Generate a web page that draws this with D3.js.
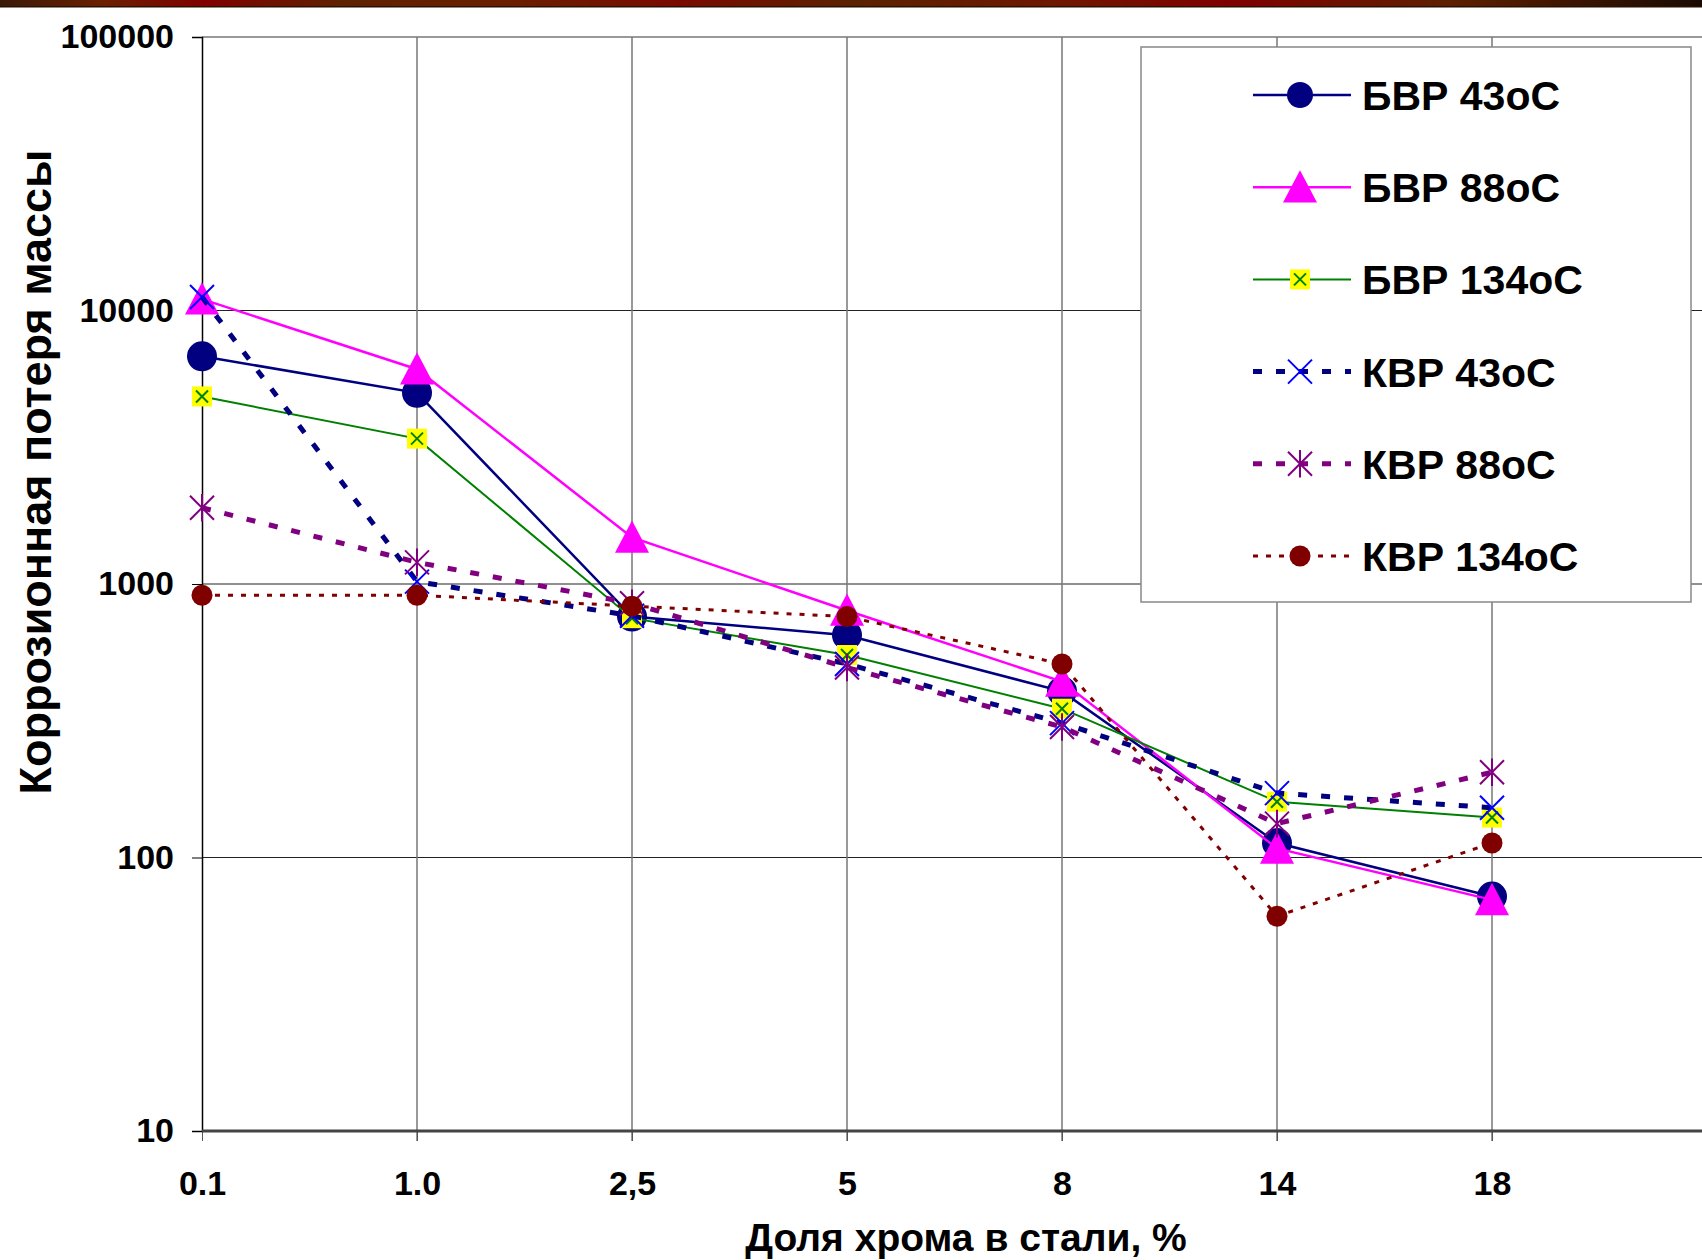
<!DOCTYPE html>
<html>
<head>
<meta charset="utf-8">
<script src="https://cdn.jsdelivr.net/npm/d3@7"></script>
<style>
  body { margin: 0; background: #fff; }
  svg { display: block; }
  text { font-family: "Liberation Sans", Arial, sans-serif; font-weight: bold; fill: #000; }
</style>
</head>
<body>
<script>
// categories on the x axis (share of chromium, %)
const categories = ["0.1", "1.0", "2,5", "5", "8", "14", "18"]
const yTicks = [10, 100, 1000, 10000, 100000]

// series values
const bvr43 = [6800, 5000, 760, 650, 405, 113, 72]
const bvr88 = [11000, 6100, 1480, 800, 440, 108, 70]
const bvr134 = [4850, 3400, 750, 550, 350, 160, 140]
const kvr43 = [11200, 1020, 765, 510, 310, 172, 152]
const kvr88 = [1900, 1200, 850, 495, 300, 133, 205]
const kvr134 = [910, 910, 830, 760, 510, 61, 113]

const seriesNames = ["БВР 43оС", "БВР 88оС", "БВР 134оС", "КВР 43оС", "КВР 88оС", "КВР 134оС"]
const seriesValues = [bvr43, bvr88, bvr134, kvr43, kvr88, kvr134]

// styles per series (line colour, width, dash, marker)
const styles = [
  {line: "#000080", w: 2.5, dash: null, marker: "circle", fill: "#000080", stroke: "none", size: 15},
  {line: "#ff00ff", w: 2.5, dash: null, marker: "triangle", fill: "#ff00ff", stroke: "none", size: 17},
  {line: "#008000", w: 2, dash: null, marker: "boxx", fill: "#ffff00", stroke: "#008000", size: 10},
  {line: "#000080", w: 5, dash: "9,14", marker: "x", fill: "none", stroke: "#0000ff", size: 12},
  {line: "#800080", w: 5, dash: "9,14", marker: "star", fill: "none", stroke: "#800080", size: 12},
  {line: "#800000", w: 3, dash: "5,8", marker: "circle", fill: "#800000", stroke: "none", size: 10.5}
]

var width = 1702, height = 1260
var plot = {left: 202, top: 37, bottom: 1131, step: 215}

var svg = d3.select("body").append("svg")
  .attr("width", width)
  .attr("height", height)

// dark red band at the very top (slide decoration)
var grad = svg.append("defs").append("linearGradient")
  .attr("id", "topband").attr("x1", "0%").attr("x2", "100%")
grad.selectAll("stop")
  .data([["0%", "#3a1a08"], ["6%", "#6a2000"], ["12%", "#800000"], ["20%", "#5e2200"], ["30%", "#6a1f00"], ["40%", "#7a0a00"], ["50%", "#5a2200"], ["62%", "#6e1800"], ["72%", "#800000"], ["85%", "#5e2000"], ["100%", "#1a0a04"]])
  .enter().append("stop")
  .attr("offset", d => d[0]).attr("stop-color", d => d[1])
svg.append("rect").attr("x", 0).attr("y", 0).attr("width", width).attr("height", 6).attr("fill", "url(#topband)")
svg.append("rect").attr("x", 0).attr("y", 6).attr("width", width).attr("height", 1.5).attr("fill", "#2a1000")

var x = d3.scaleLinear().domain([0, 7]).range([plot.left, plot.left + 7 * plot.step])
var y = d3.scaleLog().domain([10, 100000]).range([plot.bottom, plot.top])

// gridlines
svg.append("g").selectAll("line")
  .data(yTicks.slice(1))
  .enter().append("line")
  .attr("x1", plot.left).attr("x2", width)
  .attr("y1", d => y(d)).attr("y2", d => y(d))
  .attr("stroke", d => d == 100000 ? "#999" : "#222")
  .attr("stroke-width", d => d == 100000 ? 2 : 1.2)

svg.append("g").selectAll("line")
  .data(categories.slice(1))
  .enter().append("line")
  .attr("x1", (d, i) => x(i + 1)).attr("x2", (d, i) => x(i + 1))
  .attr("y1", plot.top).attr("y2", plot.bottom + 10)
  .attr("stroke", "#777").attr("stroke-width", 1.5)

// axes through d3
var yAxis = d3.axisLeft(y).tickValues(yTicks).tickSize(10).tickPadding(18).tickFormat(d3.format("d"))
var gy = svg.append("g").attr("transform", "translate(" + plot.left + ",0)").call(yAxis)
gy.select(".domain").attr("stroke", "#000").attr("stroke-width", 1.5)
gy.selectAll("text").style("font-size", "34px")

var xAxis = d3.axisBottom(x).tickValues(d3.range(categories.length)).tickSize(10).tickPadding(30)
  .tickFormat(i => categories[i])
var gx = svg.append("g").attr("transform", "translate(0," + plot.bottom + ")").call(xAxis)
gx.select(".domain").remove()
gx.selectAll("line").attr("stroke", "#555")
gx.selectAll("text").style("font-size", "34px")
svg.append("line")
  .attr("x1", plot.left).attr("x2", width)
  .attr("y1", plot.bottom).attr("y2", plot.bottom)
  .attr("stroke", "#444").attr("stroke-width", 3)

// axis titles
svg.append("text")
  .attr("x", 966).attr("y", 1251)
  .attr("text-anchor", "middle")
  .style("font-size", "39px")
  .text("Доля хрома в стали, %")

svg.append("text")
  .attr("transform", "translate(51,472) rotate(-90)")
  .attr("text-anchor", "middle")
  .style("font-size", "45px")
  .text("Коррозионная потеря массы")

function drawMarker(g, st, cx, cy) {
  var s = st.size
  if (st.marker == "circle") {
    g.append("circle").attr("cx", cx).attr("cy", cy).attr("r", s).attr("fill", st.fill)
  } else if (st.marker == "triangle") {
    g.append("path")
      .attr("d", "M" + cx + "," + (cy - s) + "L" + (cx + s) + "," + (cy + s * 0.9) + "L" + (cx - s) + "," + (cy + s * 0.9) + "Z")
      .attr("fill", st.fill)
  } else if (st.marker == "boxx") {
    g.append("rect").attr("x", cx - s).attr("y", cy - s).attr("width", 2 * s).attr("height", 2 * s).attr("fill", st.fill)
    var k = s * 0.6
    g.append("path")
      .attr("d", "M" + (cx - k) + "," + (cy - k) + "L" + (cx + k) + "," + (cy + k) + "M" + (cx + k) + "," + (cy - k) + "L" + (cx - k) + "," + (cy + k))
      .attr("stroke", st.stroke).attr("stroke-width", 2).attr("fill", "none")
  } else if (st.marker == "x") {
    g.append("path")
      .attr("d", "M" + (cx - s) + "," + (cy - s) + "L" + (cx + s) + "," + (cy + s) + "M" + (cx + s) + "," + (cy - s) + "L" + (cx - s) + "," + (cy + s))
      .attr("stroke", st.stroke).attr("stroke-width", 2).attr("fill", "none")
  } else if (st.marker == "star") {
    g.append("path")
      .attr("d", "M" + (cx - s) + "," + (cy - s) + "L" + (cx + s) + "," + (cy + s) + "M" + (cx + s) + "," + (cy - s) + "L" + (cx - s) + "," + (cy + s) + "M" + cx + "," + (cy - s * 1.15) + "L" + cx + "," + (cy + s * 1.15))
      .attr("stroke", st.stroke).attr("stroke-width", 2).attr("fill", "none")
  }
}

var line = d3.line()
  .x((d, i) => x(i))
  .y(d => y(d))

// series: line first, then markers, one series after another
seriesValues.forEach(function(vals, k) {
  var st = styles[k]
  var g = svg.append("g").attr("class", "series")
  g.append("path")
    .attr("d", line(vals))
    .attr("fill", "none")
    .attr("stroke", st.line)
    .attr("stroke-width", st.w)
    .attr("stroke-dasharray", st.dash)
  vals.forEach(function(v, i) {
    drawMarker(g, st, x(i), y(v))
  })
})

// legend
var legend = svg.append("g")
legend.append("rect")
  .attr("x", 1141).attr("y", 47).attr("width", 550).attr("height", 555)
  .attr("fill", "#fff").attr("stroke", "#888").attr("stroke-width", 1.5)

var rowY = d3.scaleLinear().domain([0, 5]).range([95, 556])
seriesNames.forEach(function(name, k) {
  var st = styles[k]
  var ly = rowY(k)
  var g = legend.append("g")
  g.append("line")
    .attr("x1", 1253).attr("x2", 1351).attr("y1", ly).attr("y2", ly)
    .attr("stroke", st.line).attr("stroke-width", st.w)
    .attr("stroke-dasharray", st.dash)
  var ls = Object.assign({}, st, {size: st.marker == "circle" && k == 0 ? 13 : st.size})
  drawMarker(g, ls, 1300, ly)
  g.append("text")
    .attr("x", 1362).attr("y", ly + 15)
    .style("font-size", "41px")
    .text(name)
})
</script>
</body>
</html>
